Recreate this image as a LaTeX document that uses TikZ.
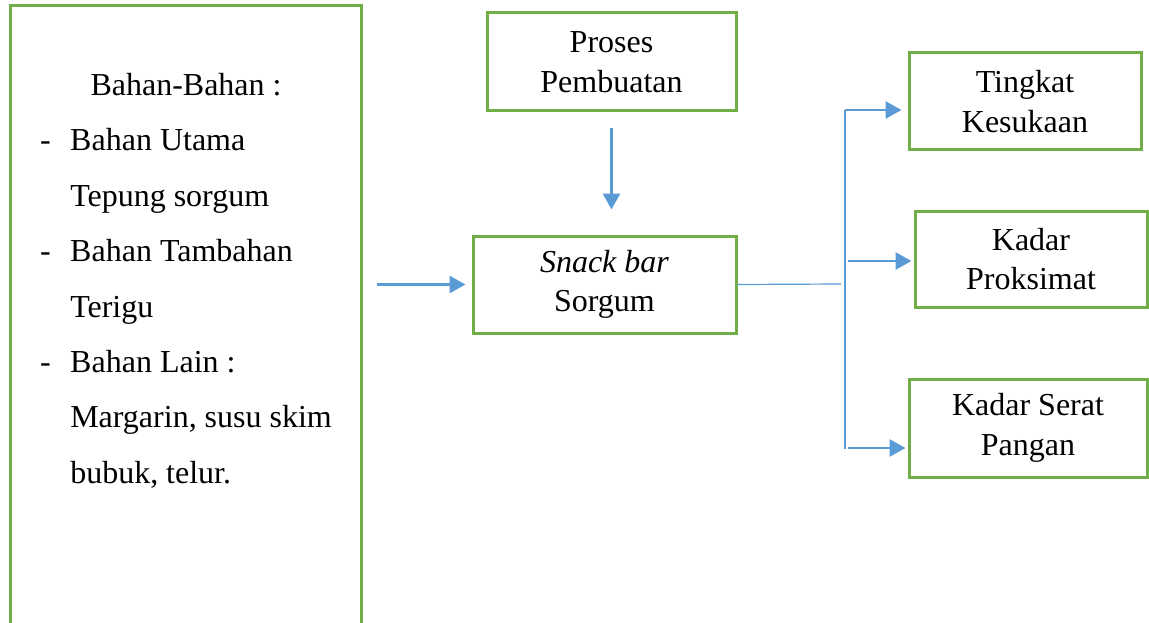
\documentclass[tikz,border=0pt]{standalone}
\usepackage{fontspec}
\setmainfont{Liberation Serif}
\usetikzlibrary{arrows.meta}
\definecolor{kotakhijau}{RGB}{112,173,71}
\definecolor{panahbiru}{RGB}{91,155,213}
\tikzset{
	kotak/.style = {draw=kotakhijau, line width=3pt, align=center, inner sep=0pt,
		font=\fontsize{32}{39.5}\selectfont},
	panah/.style = {draw=panahbiru, line width=2.8pt, -{Triangle[length=16pt, width=17pt]}},
	garis/.style = {draw=panahbiru, line width=1.2pt}
}
\begin{document}
\begin{tikzpicture}[x=1pt, y=-1pt]
	\useasboundingbox (0,0) rectangle (1149,623);
	\clip (0,0) rectangle (1149,623);
	% kotak bahan (bawahnya terpotong)
	\node[kotak, minimum width=351, minimum height=634] (bahan) at (185.5,323) {};
	\node[anchor=north west, inner sep=0pt, font=\fontsize{32}{55.4}\selectfont] (isi) at (40,56.5)
	{\begin{tabular}{@{}l@{\hspace{19.4pt}}l@{}}
		\multicolumn{2}{c}{Bahan-Bahan :}\\
		- & Bahan Utama\\
		  & Tepung sorgum\\
		- & Bahan Tambahan\\
		  & Terigu\\
		- & Bahan Lain :\\
		  & Margarin, susu skim\\
		  & bubuk, telur.
	\end{tabular}};
	% kotak proses
	\node[kotak, minimum width=249, minimum height=98] (proses) at (611.5,62) {Proses\\Pembuatan};
	\node[kotak, minimum width=263, minimum height=97] (snack) at (604.5,284.5) {\textit{Snack bar}\\Sorgum};
	% kotak hasil
	\node[kotak, minimum width=232, minimum height=97] (tingkat) at (1025,101.5) {Tingkat\\Kesukaan};
	\node[kotak, minimum width=232, minimum height=96] (proksimat) at (1031,259) {Kadar\\Proksimat};
	\node[kotak, minimum width=238, minimum height=98] (serat) at (1028,428) {Kadar Serat\\Pangan};
	% panah masuk
	\draw[panah, shorten <=14pt, shorten >=6pt] (bahan.east |- snack.west) -- (snack.west);
	\draw[panah, shorten <=16pt, shorten >=25pt] (proses.south) -- (proses.south |- snack.north);
	% cabang ke kanan
	\coordinate (cabang) at (841,284);
	\coordinate (atas) at (845,110);
	\coordinate (bawah) at (845,449);
	\coordinate (tengah) at (848,261);
	\coordinate (akhir) at (848,448);
	\draw[garis] (snack.east) -- (cabang);
	\draw[garis] (atas) -- (bawah);
	\draw[panah, shorten >=6pt] (atas) -- (tingkat.west |- atas);
	\draw[panah, shorten >=2pt] (tengah) -- (proksimat.west |- tengah);
	\draw[panah, shorten >=2pt] (akhir) -- (serat.west |- akhir);
\end{tikzpicture}
\end{document}
